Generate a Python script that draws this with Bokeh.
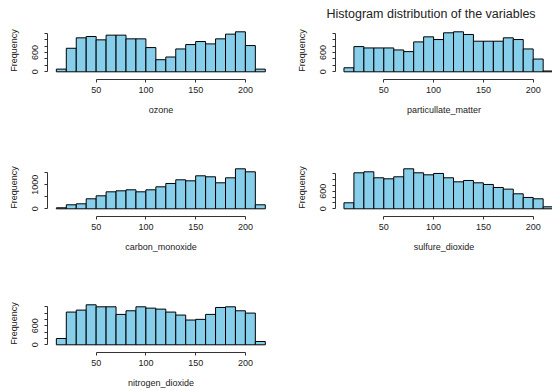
from bokeh.plotting import figure
from bokeh.layouts import column, row
from bokeh.models import FixedTicker, Spacer, Title
from bokeh.embed import file_html
from bokeh.resources import INLINE

# ---------------- data ----------------
BREAKS = [10, 20, 30, 40, 50, 60, 70, 80, 90, 100, 110, 120, 130, 140, 150,
          160, 170, 180, 190, 200, 210, 220]

ozone = [83, 730, 1054, 1095, 991, 1137, 1137, 1022, 1022, 751, 375, 459,
         709, 845, 939, 866, 1022, 1168, 1241, 814, 83]
particulate_matter = [125, 782, 740, 740, 740, 678, 626, 928, 1085, 1001, 1210,
                      1241, 1158, 949, 949, 949, 1054, 1001, 709, 396, 25]
carbon_monoxide = [42, 167, 208, 417, 542, 708, 750, 792, 708, 792, 917, 1056,
                   1209, 1167, 1376, 1334, 1084, 1292, 1668, 1543, 167]
sulfure_dioxide = [206, 1234, 1268, 1063, 1028, 1097, 1371, 1234, 1165, 1211,
                   1063, 925, 971, 891, 834, 731, 674, 514, 389, 343, 69]
nitrogen_dioxide = [198, 1030, 1092, 1259, 1196, 1196, 957, 1071, 1196, 1154,
                    1123, 1030, 936, 780, 801, 957, 1175, 1196, 1071, 998, 104]

X_TICKS = [50, 100, 150, 200]
Y_TICKS_A = [0, 200, 400, 600, 800, 1000, 1200]
Y_LABELS_A = {0: "0", 600: "600"}
Y_TICKS_B = [0, 500, 1000, 1500]
Y_LABELS_B = {0: "0", 1000: "1000"}

TITLE = "Histogram distribution of the variables"

# ---------------- layout (page px) ----------------
FONT = "Liberation Sans"
TXT = "#222222"

COL_W = 276
ROW_TOP = [0, 121, 257]
ROW_H = [121, 136, 134]
BASE = [71.3, 208.3, 344.3]


def make_panel(counts, xlabel, rowi, col, yticks, ylabels, title=None):
    H = ROW_H[rowi]
    base = BASE[rowi] - ROW_TOP[rowi]
    f_bottom = round(base + 8)
    f_top = round(base - 50)
    M = max(counts)
    px_per_M = 40.0
    y0 = -(f_bottom - base) / px_per_M * M
    y1 = (base - f_top) / px_per_M * M

    if col == 0:
        fl, fr = 47, 274
        d0 = (fl - 45.9) / 0.995
        d1 = (fr - 45.9) / 0.995
    else:
        fl, fr = 59, 276
        d0 = (276 + fl - 333.5) / 0.996
        d1 = (276 + fr - 333.5) / 0.996

    p = figure(width=COL_W, height=H, output_backend="svg", toolbar_location=None,
               x_range=(d0, d1), y_range=(y0, y1),
               min_border_left=fl, min_border_right=COL_W - fr,
               min_border_top=f_top, min_border_bottom=H - f_bottom)
    p.outline_line_color = None
    p.background_fill_color = "white"
    p.border_fill_color = "white"
    p.xgrid.visible = False
    p.ygrid.visible = False

    p.quad(left=BREAKS[:-1], right=BREAKS[1:], bottom=0, top=counts,
           fill_color="#87CEEB", line_color="black", line_width=1)

    for ax in (p.xaxis[0], p.yaxis[0]):
        ax.axis_line_color = "#333333"
        ax.major_tick_line_color = "#333333"
        ax.major_tick_out = 3
        ax.major_tick_in = 0
        ax.minor_tick_line_color = None
        ax.major_label_text_font = FONT
        ax.major_label_text_font_size = "9px"
        ax.major_label_text_color = TXT
        ax.axis_label_text_font = FONT
        ax.axis_label_text_font_size = "9px"
        ax.axis_label_text_font_style = "normal"
        ax.axis_label_text_color = TXT

    xa = p.xaxis[0]
    xa.ticker = FixedTicker(ticks=X_TICKS)
    xa.bounds = (X_TICKS[0], X_TICKS[-1])
    xa.axis_label = xlabel
    xa.major_label_standoff = 4
    xa.axis_label_standoff = 9

    ya = p.yaxis[0]
    ya.ticker = FixedTicker(ticks=yticks)
    ya.bounds = (yticks[0], yticks[-1])
    ya.major_label_overrides = {t: ylabels.get(t, "") for t in yticks}
    ya.major_label_orientation = "vertical"
    ya.axis_label = "Frequency"
    ya.major_label_standoff = 6
    ya.axis_label_standoff = 11

    if title:
        p.title = Title(text=title, align="left", offset=-9, standoff=2,
                        text_font=FONT, text_font_size="12.5px",
                        text_font_style="normal", text_color=TXT)
    return p


p1 = make_panel(ozone, "ozone", 0, 0, Y_TICKS_A, Y_LABELS_A)
p2 = make_panel(particulate_matter, "particullate_matter", 0, 1, Y_TICKS_A, Y_LABELS_A, TITLE)
p3 = make_panel(carbon_monoxide, "carbon_monoxide", 1, 0, Y_TICKS_B, Y_LABELS_B)
p4 = make_panel(sulfure_dioxide, "sulfure_dioxide", 1, 1, Y_TICKS_A, Y_LABELS_A)
p5 = make_panel(nitrogen_dioxide, "nitrogen_dioxide", 2, 0, Y_TICKS_A, Y_LABELS_A)
sp = Spacer(width=COL_W, height=ROW_H[2])

layout = column(row(p1, p2), row(p3, p4), row(p5, sp))

open("out.html", "w").write(file_html(layout, INLINE))
